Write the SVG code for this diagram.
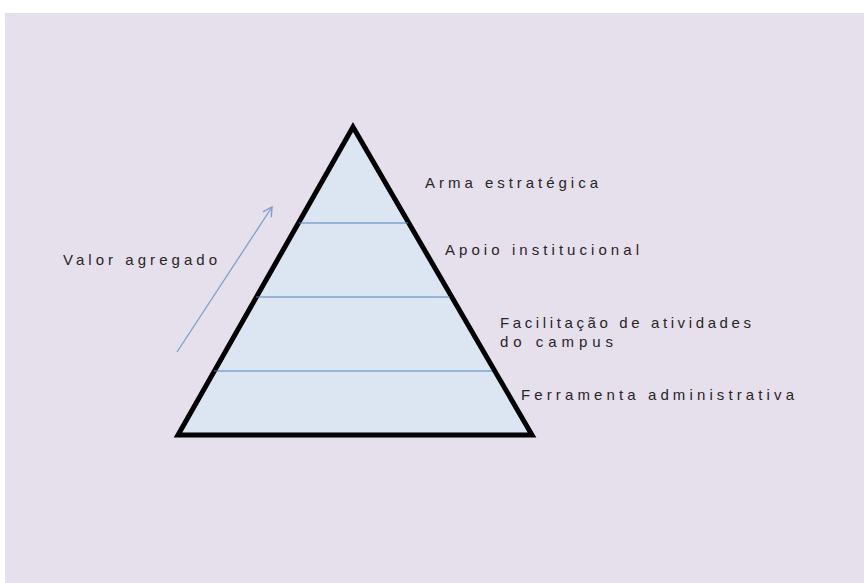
<svg xmlns="http://www.w3.org/2000/svg" width="864" height="583" viewBox="0 0 864 583">
<style>
.lbl{font-family:"Liberation Sans","DejaVu Sans",sans-serif;font-size:15px;fill:#262626}
.lvl{stroke:#4f81bd;stroke-width:1.2}
</style>
<defs>
<marker id="ah" viewBox="0 0 12 12" refX="10" refY="6" markerWidth="12" markerHeight="12" markerUnits="userSpaceOnUse" orient="auto">
<path d="M1,1 L10,6 L1,11" fill="none" stroke="#7f9fcf" stroke-width="1.4"/>
</marker>
</defs>
<rect x="0" y="0" width="864" height="583" fill="#ffffff"/>
<rect x="5" y="13" width="859" height="570" fill="#e6dfec"/>
<g id="pyramid">
<polygon points="353,127 178,435 532,435" fill="#dce6f2" stroke="#000000" stroke-width="5" stroke-linejoin="miter"/>
<line class="lvl" x1="299" y1="223" x2="408" y2="223"/>
<line class="lvl" x1="256" y1="297" x2="450" y2="297"/>
<line class="lvl" x1="214" y1="371" x2="492" y2="371"/>
</g>
<g id="connectors">
<line x1="177" y1="352" x2="272" y2="207" stroke="#7f9fcf" stroke-width="1.3" marker-end="url(#ah)"/>
</g>
<g id="labels">
<text class="lbl" x="425" y="188" textLength="173" lengthAdjust="spacing">Arma estratégica</text>
<text class="lbl" x="445" y="255" textLength="194" lengthAdjust="spacing">Apoio institucional</text>
<text class="lbl" x="500" y="328" textLength="251" lengthAdjust="spacing">Facilitação de atividades</text>
<text class="lbl" x="500" y="347" textLength="113" lengthAdjust="spacing">do campus</text>
<text class="lbl" x="521" y="400" textLength="273" lengthAdjust="spacing">Ferramenta administrativa</text>
<text class="lbl" x="63" y="265" textLength="154" lengthAdjust="spacing">Valor agregado</text>
</g>
</svg>
